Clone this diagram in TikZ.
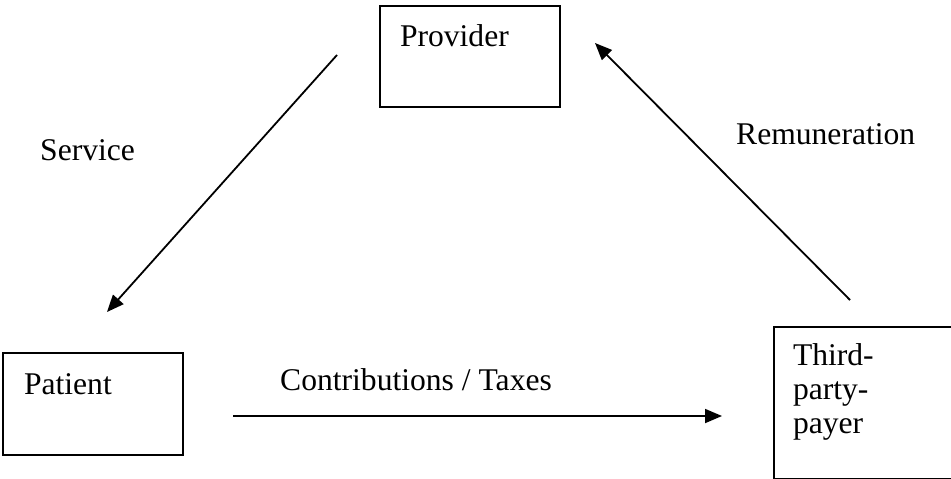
\documentclass[tikz,border=0pt]{standalone}
\usepackage{fontspec}
\setmainfont{Liberation Serif}
\usetikzlibrary{arrows.meta}
\begin{document}
\begin{tikzpicture}[x=1pt,y=-1pt]
\tikzstyle{every node}+=[inner sep=0pt,font=\fontsize{31.6}{34}\selectfont]
\tikzstyle{party}=[draw=black,line width=2pt,anchor=north west,align=left]
\tikzstyle{flow}=[black,line width=1.8pt,-{Triangle[length=17pt,width=14pt]}]
\useasboundingbox (0,0) rectangle (951,479);
% the three parties
\node [party,inner xsep=20pt,text width=140pt,text height=40pt,text depth=61pt] (provider) at (379,5) {Provider};
\node [party,inner xsep=21pt,text width=138pt,text height=41pt,text depth=61pt] (patient) at (2,352) {Patient};
\node [party,inner xsep=19pt,text width=180pt,text height=38pt,text depth=114pt] (payer) at (773,326) {Third-\\party-\\payer};
% arrow ends
\coordinate (s1) at (337,55);
\coordinate (s2) at (107,312);
\coordinate (r1) at (850,300);
\coordinate (r2) at (595,43);
\coordinate (c1) at (233,416);
\coordinate (c2) at (722,416);
\draw [flow] (s1) -- (s2);
\draw [flow] (r1) -- (r2);
\draw [flow] (c1) -- (c2);
% flow labels
\node [anchor=base west] (service) at (40,160) {Service};
\node [anchor=base west] (remuneration) at (736,144) {Remuneration};
\node [anchor=base west] (contributions) at (280,390) {Contributions / Taxes};
\end{tikzpicture}
\end{document}
